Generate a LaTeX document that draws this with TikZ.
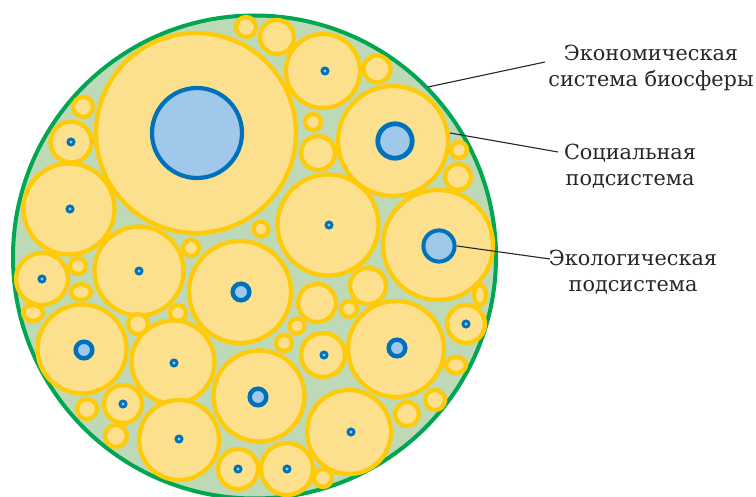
\documentclass[tikz,border=0pt]{standalone}
\usepackage{fontspec}
\setmainfont{DejaVu Serif}
\definecolor{gstroke}{HTML}{00A650}
\definecolor{gfill}{HTML}{BDD9B7}
\definecolor{ystroke}{HTML}{FFCB08}
\definecolor{yfill}{HTML}{FDE08D}
\definecolor{bstroke}{HTML}{0072BC}
\definecolor{bfill}{HTML}{A0C8EA}
\definecolor{txt}{HTML}{262626}
\tikzset{
  ycirc/.style={draw=ystroke,fill=yfill,line width=4.3pt},
  bring/.style={draw=bstroke,fill=bfill,line width=4.5pt},
  leader/.style={draw=txt,line width=1.1pt},
  lbl/.style={text=txt,align=center,font=\fontsize{20.8}{26.5}\selectfont,inner sep=0pt}
}
\newcommand\Ycirc[3]{\filldraw[ycirc] (#1,#2) circle[radius=#3pt];}
\newcommand\Yell[4]{\filldraw[ycirc] (#1,#2) ellipse[x radius=#3pt,y radius=#4pt];}
\newcommand\Ydot[2]{\fill[bstroke] (#1,#2) circle[radius=4.6pt];\fill[bfill] (#1,#2) circle[radius=1.6pt];}
\newcommand\Yring[2]{\filldraw[bring] (#1,#2) circle[radius=8.3pt];}
\begin{document}
\begin{tikzpicture}[x=1pt,y=-1pt]
\useasboundingbox (0,0) rectangle (756,497);
% outer system
\filldraw[draw=gstroke,fill=gfill,line width=4pt] (254.5,257) circle[radius=241.5pt];
% circles
\Ycirc{196}{133}{100}
\filldraw[draw=bstroke,fill=bfill,line width=4.2pt] (197,133) circle[radius=45pt];
\Ycirc{246}{27}{10}
\Ycirc{277}{37}{17}
\Ycirc{323}{71}{37} \Ydot{325}{71}
\Ycirc{377}{69}{13.5}
\Ycirc{83}{107}{10}
\Ycirc{71}{142}{20.5} \Ydot{71}{142}
\Ycirc{69}{209}{45.5} \Ydot{70}{209}
\Ycirc{191}{248}{8}
\Ycirc{313}{122}{8}
\Ycirc{318}{153}{17}
\Ycirc{393}{141}{55}
\filldraw[draw=bstroke,fill=bfill,line width=4.8pt] (395,141) circle[radius=17.2pt];
\Ycirc{459}{150}{8}
\Ycirc{458}{177}{13}
\Ycirc{328}{225}{50.5} \Ydot{329}{225}
\Ycirc{261}{229}{7.5}
\Ycirc{438}{245}{55}
\filldraw[draw=bstroke,fill=bfill,line width=4pt] (439,246) circle[radius=15.6pt];
\Ycirc{42}{279}{26} \Ydot{42}{279}
\Ycirc{78}{266}{8}
\Yell{81}{292}{10}{8}
\Yell{33}{313}{10}{8}
\Ycirc{139}{271}{44.5} \Ydot{139}{271}
\Ycirc{82}{349}{44.5} \Yring{84}{350}
\Ycirc{138}{324}{10}
\Ycirc{178}{313}{8}
\Ycirc{173}{362}{41.5} \Ydot{174}{363}
\Ycirc{240}{292}{51} \Yring{241}{292}
\Ycirc{259}{396}{45.5} \Yring{258}{397}
\Ycirc{87}{409}{10}
\Ycirc{123}{404}{19} \Ydot{123}{404}
\Ycirc{116}{436}{11}
\Ycirc{179}{440}{40} \Ydot{179}{439}
\Ycirc{238}{469}{20} \Ydot{238}{469}
\Ycirc{317}{303}{19}
\Ycirc{368}{286}{18}
\Ycirc{349}{309}{8}
\Ycirc{297}{326}{7.5}
\Ycirc{284}{343}{8}
\Ycirc{323}{355}{22} \Ydot{324}{355}
\Ycirc{396}{349}{48} \Yring{397}{348}
\Ycirc{466}{324}{19} \Ydot{466}{324}
\Yell{480}{295}{6}{10}
\Yell{456}{365}{10}{8}
\Ycirc{435}{400}{10}
\Ycirc{407}{414}{12}
\Ycirc{349}{432}{42} \Ydot{351}{432}
\Ycirc{287}{469}{26} \Ydot{287}{469}
\Ycirc{323}{478}{9}
% labels
\node[lbl] (econ) at (651,68) {Экономическая\\система биосферы};
\node[lbl] (soc) at (630,166) {Социальная\\подсистема};
\node[lbl] (eco) at (633,272) {Экологическая\\подсистема};
% leader ends
\coordinate (econA) at (428,87);
\coordinate (econB) at (545,62);
\coordinate (socA) at (450,133);
\coordinate (socB) at (558,152);
\coordinate (ecoA) at (457,246);
\coordinate (ecoB) at (550,259);
\draw[leader] (econA) -- (econB);
\draw[leader] (socA) -- (socB);
\draw[leader] (ecoA) -- (ecoB);
\end{tikzpicture}
\end{document}
